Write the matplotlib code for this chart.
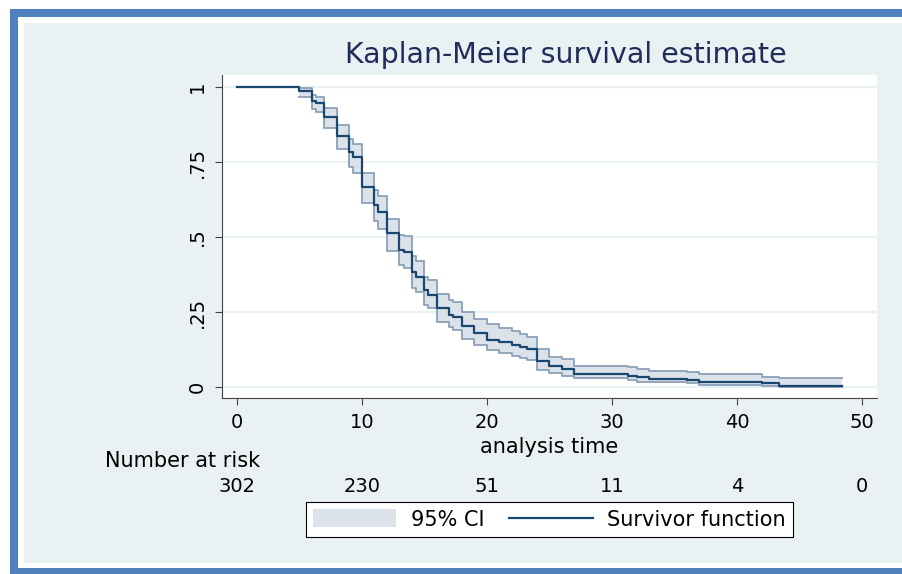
import matplotlib
matplotlib.use("Agg")
import matplotlib.pyplot as plt
from matplotlib.patches import Rectangle, Patch
from matplotlib.lines import Line2D
from matplotlib.transforms import blended_transform_factory
import numpy as np

# figure size in pixels
W, H = 903, 574

# Kaplan-Meier step values
times = [0, 5.0, 6.0, 6.3, 7.0, 8.0, 9.0, 9.3, 10.0, 11.0,
         11.3, 12.0, 13.0, 13.4, 14.0, 14.3, 15.0, 15.3, 16.0, 17.0,
         17.3, 18.0, 19.0, 20.0, 21.0, 22.0, 22.6, 23.2, 24.0, 25.0,
         26.0, 27.0, 31.3, 32.0, 33.0, 36.0, 37.0, 42.0, 43.4]
end_time = 48.4
surv = [1.0, 0.988, 0.954, 0.946, 0.901, 0.838, 0.784, 0.766, 0.667, 0.608,
        0.584, 0.512, 0.457, 0.450, 0.382, 0.368, 0.323, 0.307, 0.262, 0.240,
        0.232, 0.203, 0.180, 0.158, 0.149, 0.141, 0.132, 0.125, 0.087, 0.070,
        0.061, 0.043, 0.038, 0.032, 0.027, 0.023, 0.017, 0.012, 0.004]
ci_lo = [1.0, 0.968, 0.925, 0.915, 0.862, 0.792, 0.734, 0.714, 0.612, 0.552,
         0.528, 0.453, 0.405, 0.396, 0.331, 0.318, 0.273, 0.262, 0.215, 0.199,
         0.190, 0.160, 0.140, 0.123, 0.113, 0.104, 0.097, 0.090, 0.058, 0.045,
         0.037, 0.029, 0.023, 0.018, 0.016, 0.012, 0.007, 0.003, 0.0005]
ci_hi = [1.0, 0.996, 0.972, 0.966, 0.929, 0.873, 0.826, 0.809, 0.714, 0.657,
         0.635, 0.560, 0.508, 0.502, 0.436, 0.420, 0.366, 0.355, 0.310, 0.290,
         0.282, 0.249, 0.227, 0.210, 0.197, 0.186, 0.178, 0.168, 0.128, 0.100,
         0.092, 0.071, 0.066, 0.059, 0.054, 0.049, 0.042, 0.034, 0.029]

# number at risk table
risk_times = [0, 10, 20, 30, 40, 50]
at_risk = [302, 230, 51, 11, 4, 0]

x_ticks = [0, 10, 20, 30, 40, 50]
y_ticks = [0, 0.25, 0.5, 0.75, 1]
y_labels = ["0", ".25", ".5", ".75", "1"]

NAVY = "#1A476F"
CI_FILL = "#DCE2EA"
CI_EDGE = "#8BA0B8"
BG = "#EAF1F3"
FRAME = "#4F81BD"


def fx(px):
    return px / W


def fy(py):
    return 1 - py / H


def band(x0, y0, x1, y1, color, z):
    # rectangle given in pixel corners (top-left origin)
    fig.patches.append(Rectangle((fx(x0), fy(y1)), fx(x1) - fx(x0), fy(y0) - fy(y1),
                                 transform=fig.transFigure, facecolor=color,
                                 edgecolor="none", zorder=z))


fig = plt.figure(figsize=(W / 100, H / 100), dpi=100)
fig.patch.set_facecolor(BG)

# stata-like outer frame: white margin, blue band, white gap (open on the right)
band(0, 0, W, 23, "white", -10)
band(0, 0, 24, H, "white", -10)
band(0, 563, W, H, "white", -10)
band(10, 9, W, 17, FRAME, -9)
band(10, 9, 18, H, FRAME, -9)
band(10, 568, W, H, FRAME, -9)

ax = fig.add_axes([fx(222), fy(398), fx(877) - fx(222), fy(75) - fy(398)])
ax.set_facecolor("white")

t_ext = np.append(times, end_time)
s_ext = np.append(surv, surv[-1])
lo_ext = np.append(ci_lo, ci_lo[-1])
hi_ext = np.append(ci_hi, ci_hi[-1])

for y in y_ticks:
    ax.axhline(y, color=BG, lw=1.6, zorder=0)

# confidence band from the first event on
ax.fill_between(t_ext[1:], lo_ext[1:], hi_ext[1:], step="post", color=CI_FILL, lw=0, zorder=1)
ax.step(t_ext[1:], lo_ext[1:], where="post", color=CI_EDGE, lw=1.3, zorder=2)
ax.step(t_ext[1:], hi_ext[1:], where="post", color=CI_EDGE, lw=1.3, zorder=2)
ax.step(t_ext, s_ext, where="post", color=NAVY, lw=1.6, zorder=3)

ax.set_xlim(-1.2, 51.2)
ax.set_ylim(-0.0367, 1.04)
ax.set_xticks(x_ticks)
ax.set_yticks(y_ticks)
ax.set_yticklabels(y_labels, rotation=90, va="center")
ax.tick_params(axis="both", length=5, width=0.8, color="#444444", labelsize=14, pad=6)

for side in ["top", "right"]:
    ax.spines[side].set_visible(False)
for side in ["left", "bottom"]:
    ax.spines[side].set_color("#444444")
    ax.spines[side].set_linewidth(0.8)

ax.set_xlabel("analysis time", fontsize=15)
ax.xaxis.label.set_va("baseline")
ax.xaxis.set_label_coords(0.5, (398 - 453) / 323)

fig.text(fx(566), fy(63), "Kaplan-Meier survival estimate", ha="center", va="baseline",
         fontsize=20.5, color="#1E2D5A")

fig.text(fx(105), fy(467), "Number at risk", ha="left", va="baseline", fontsize=15)
tr = blended_transform_factory(ax.transData, fig.transFigure)
for t, n in zip(risk_times, at_risk):
    ax.text(t, fy(492), str(n), transform=tr, ha="center", va="baseline", fontsize=14, clip_on=False)

handles = [Patch(facecolor=CI_FILL, edgecolor="none", label="95% CI"),
           Line2D([], [], color=NAVY, lw=1.6, label="Survivor function")]
leg = ax.legend(handles=handles, loc="center", bbox_to_anchor=(fx(549.5), fy(519.5)),
                bbox_transform=fig.transFigure, ncol=2, frameon=True, fancybox=False,
                edgecolor="black", framealpha=1, fontsize=15, handlelength=4.0,
                handleheight=0.95, handletextpad=0.7, columnspacing=1.2,
                borderpad=0.35, borderaxespad=0)
leg.get_frame().set_linewidth(0.8)

fig.savefig("out.png", dpi=100, facecolor=fig.get_facecolor())
